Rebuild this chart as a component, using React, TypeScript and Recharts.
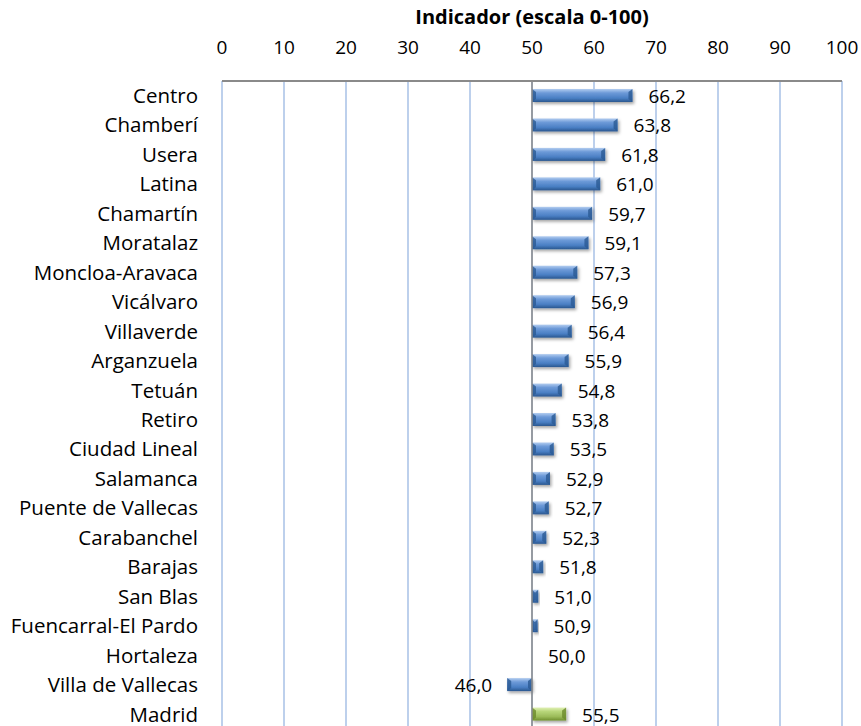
import { BarChart, Bar, XAxis, YAxis, CartesianGrid, Cell, LabelList, ReferenceLine, Label } from "recharts";

const districts = [
  "Centro", "Chamberí", "Usera", "Latina", "Chamartín", "Moratalaz", "Moncloa-Aravaca",
  "Vicálvaro", "Villaverde", "Arganzuela", "Tetuán", "Retiro", "Ciudad Lineal", "Salamanca",
  "Puente de Vallecas", "Carabanchel", "Barajas", "San Blas", "Fuencarral-El Pardo",
  "Hortaleza", "Villa de Vallecas", "Madrid",
];
const scores = [
  66.2, 63.8, 61.8, 61.0, 59.7, 59.1, 57.3, 56.9, 56.4, 55.9, 54.8,
  53.8, 53.5, 52.9, 52.7, 52.3, 51.8, 51.0, 50.9, 50.0, 46.0, 55.5,
];
const xTicks = [0, 10, 20, 30, 40, 50, 60, 70, 80, 90, 100];
const baseline = 50;
const totalLabel = "Madrid";

const FONT = "'Open Sans', Lato, sans-serif";

const data = districts.map((name, i) => ({
  name,
  score: scores[i],
  range: [baseline, scores[i]],
}));

// bevelled bar: gradient body, darker slanted ends
const BevelBar = (props: any) => {
  const { x, y, width, height, fill } = props;
  const x0 = Math.min(x, x + width);
  const w = Math.abs(width);
  if (!w) return null;
  const dark = fill.includes("Green") ? "#6b8a2c" : "#2b5a94";
  const cap = Math.min(4, w / 2);
  const x1 = x0 + w;
  return (
    <g filter="url(#barShadow)">
      <rect x={x0} y={y} width={w} height={height} fill={fill} />
      <polygon points={`${x0},${y} ${x0 + cap},${y + 3} ${x0 + cap},${y + height - 3} ${x0},${y + height}`} fill={dark} opacity={0.8} />
      <polygon points={`${x1},${y} ${x1 - cap},${y + 3} ${x1 - cap},${y + height - 3} ${x1},${y + height}`} fill={dark} opacity={0.8} />
    </g>
  );
};

const ValueLabel = (props: any) => {
  const { x, y, width, height, value } = props;
  const left = Math.min(x, x + width);
  const right = Math.max(x, x + width);
  const txt = Number(value).toFixed(1).replace(".", ",");
  const below = value < baseline;
  return (
    <text
      x={below ? left - 15 : right + 16}
      y={y + height / 2 + 0.5}
      textAnchor={below ? "end" : "start"}
      dominantBaseline="central"
      fontFamily={FONT}
      fontSize={19}
      fill="#000"
    >
      {txt}
    </text>
  );
};

export default function App() {
  return (
    <div style={{ position: "absolute", left: 0, top: 0, width: 861, height: 726, overflow: "hidden", background: "#fff" }}>
      <BarChart
        width={861}
        height={740}
        data={data}
        layout="vertical"
        margin={{ top: 0, right: 19, bottom: 11, left: 0 }}
        barSize={13}
      >
        <defs>
          <linearGradient id="gradBlue" x1="0" y1="0" x2="0" y2="1">
            <stop offset="0%" stopColor="#b3cdf0" />
            <stop offset="30%" stopColor="#6d9ad8" />
            <stop offset="70%" stopColor="#4a7fc4" />
            <stop offset="100%" stopColor="#29568f" />
          </linearGradient>
          <linearGradient id="gradGreen" x1="0" y1="0" x2="0" y2="1">
            <stop offset="0%" stopColor="#e0f0b4" />
            <stop offset="30%" stopColor="#b8d67a" />
            <stop offset="70%" stopColor="#9bbb59" />
            <stop offset="100%" stopColor="#6f8f2e" />
          </linearGradient>
          <filter id="barShadow" x="-20%" y="-50%" width="140%" height="200%">
            <feDropShadow dx="1.5" dy="2" stdDeviation="1.5" floodColor="#000" floodOpacity="0.35" />
          </filter>
        </defs>
        <CartesianGrid horizontal={false} stroke="#a7c0e6" strokeWidth={1.5} />
        <XAxis
          type="number"
          orientation="top"
          domain={[0, 100]}
          ticks={xTicks}
          height={81}
          axisLine={{ stroke: "#8a8a8a", strokeWidth: 2 }}
          tickLine={false}
          tickSize={0}
          tickMargin={27}
          tick={{ fill: "#000", fontSize: 19, fontFamily: FONT }}
        >
          <Label
            value="Indicador (escala 0-100)"
            position="insideTop"
            offset={10}
            style={{ fill: "#000", fontSize: 20, fontWeight: 700, fontFamily: FONT }}
          />
        </XAxis>
        <YAxis
          type="category"
          dataKey="name"
          width={222}
          axisLine={false}
          tickLine={false}
          tickSize={0}
          tickMargin={24}
          interval={0}
          tick={{ fill: "#000", fontSize: 20.5, fontFamily: FONT }}
        />
        <ReferenceLine x={baseline} stroke="#8a8a8a" strokeWidth={1.5} />
        <Bar dataKey="range" shape={<BevelBar />} isAnimationActive={false}>
          {data.map((d) => (
            <Cell key={d.name} fill={d.name === totalLabel ? "url(#gradGreen)" : "url(#gradBlue)"} />
          ))}
          <LabelList dataKey="score" content={<ValueLabel />} />
        </Bar>
      </BarChart>
    </div>
  );
}
